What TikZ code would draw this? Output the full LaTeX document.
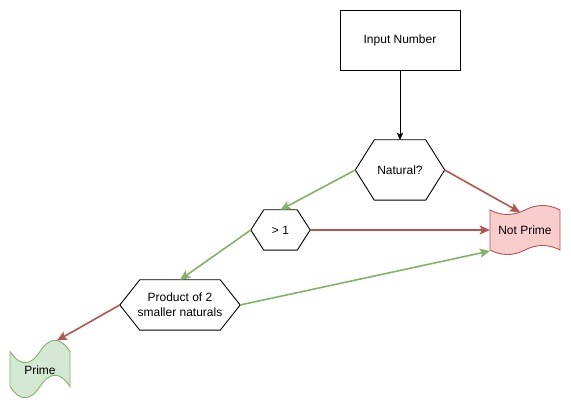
\documentclass[tikz,border=0pt]{standalone}
\usepackage{fontspec}
\setmainfont{Liberation Sans}
\usetikzlibrary{arrows.meta}
\definecolor{gstroke}{HTML}{82B366}
\definecolor{gfill}{HTML}{D5E8D4}
\definecolor{rstroke}{HTML}{B85450}
\definecolor{rfill}{HTML}{F8CECC}
\newcommand\hexdraw[2]{\draw[hexline] (#1.west) -- ([xshift=#2]#1.north west) -- ([xshift=-#2]#1.north east) -- (#1.east) -- ([xshift=-#2]#1.south east) -- ([xshift=#2]#1.south west) -- cycle;}
\begin{document}
\begin{tikzpicture}[x=1pt,y=-1pt,
  every node/.style={font=\fontsize{12}{15}\selectfont, inner sep=0pt, align=center},
  box/.style={rectangle, minimum width=#1},
  hexline/.style={draw=black, line width=0.9pt, line join=miter},
  blackedge/.style={draw=black, line width=0.9pt, -{Stealth[length=7pt,width=6.5pt,inset=1.5pt]}},
  greenedge/.style={draw=gstroke, line width=1.6pt, -{Stealth[length=10pt,width=9pt,inset=2pt]}},
  rededge/.style={draw=rstroke, line width=1.6pt, -{Stealth[length=10pt,width=9pt,inset=2pt]}},
  tapeg/.style={draw=gstroke, fill=gfill, line width=0.9pt},
  taper/.style={draw=rstroke, fill=rfill, line width=0.9pt}]
\useasboundingbox (0,0) rectangle (571,411);
\fill[white] (0,0) rectangle (571,411);

% nodes
\node[box=120pt, minimum height=60pt, draw, line width=0.9pt] (in) at (400,40) {Input Number};
\node[box=89pt, minimum height=60pt] (nat) at (400,170) {Natural?};
\node[box=59pt, minimum height=40pt] (gt) at (280.5,230) {> 1};
\node[box=120pt, minimum height=50pt] (prod) at (180,305) {Product of 2\\smaller naturals};

% tapes
\draw[taper] (490,210) .. controls (501.67,216) and (513.33,216) .. (525,210)
  .. controls (536.67,204) and (548.33,204) .. (560,210) -- (560,250)
  .. controls (548.33,244) and (536.67,244) .. (525,250)
  .. controls (513.33,256) and (501.67,256) .. (490,250) -- cycle;
\node[box=70pt, minimum height=40pt] (np) at (525,230) {Not Prime};

\draw[tapeg] (10,351.5) .. controls (20,366.5) and (30,366.5) .. (40,351.5)
  .. controls (50,336.5) and (60,336.5) .. (70,351.5) -- (70,386.5)
  .. controls (60,371.5) and (50,371.5) .. (40,386.5)
  .. controls (30,401.5) and (20,401.5) .. (10,386.5) -- cycle;
\node[box=60pt, minimum height=35pt] (pr) at (40,370) {Prime};

% hexagon outlines
\hexdraw{nat}{19pt}
\hexdraw{gt}{13pt}
\hexdraw{prod}{20pt}

% free ends on the tape outlines
\coordinate (npTop) at (520,212.2);
\coordinate (npLow) at (490,251);
\coordinate (prTop) at (57,340.5);

% connectors
\draw[blackedge] (in.south) -- (nat.north);
\draw[greenedge] (nat.west) -- (gt.north);
\draw[rededge] (nat.east) -- (npTop);
\draw[rededge] (gt.east) -- (np.west);
\draw[greenedge] (gt.west) -- (prod.north);
\draw[greenedge] (prod.east) -- (npLow);
\draw[rededge] (prod.west) -- (prTop);
\end{tikzpicture}
\end{document}
